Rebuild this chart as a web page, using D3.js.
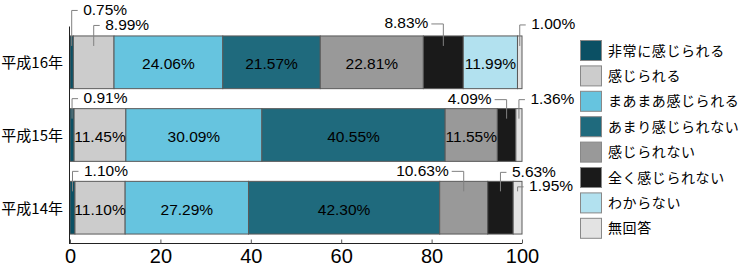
<!DOCTYPE html>
<html>
<head>
<meta charset="utf-8">
<script src="https://cdn.jsdelivr.net/npm/d3@7"></script>
<style>
  html, body { margin: 0; padding: 0; background: #fff; }
  svg { display: block; }
</style>
</head>
<body>
<svg id="chart" width="742" height="269"></svg>
<script>
// ---- data ----
const categories = ["平成16年", "平成15年", "平成14年"];
const seriesNames = ["非常に感じられる", "感じられる", "まあまあ感じられる", "あまり感じられない",
                     "感じられない", "全く感じられない", "わからない", "無回答"];
const valuesH16 = [0.75, 8.99, 24.06, 21.57, 22.81, 8.83, 11.99, 1.00];
const valuesH15 = [0.91, 11.45, 30.09, 40.55, 11.55, 4.09, 0, 1.36];
const valuesH14 = [1.10, 11.10, 27.29, 42.30, 10.63, 5.63, 0, 1.95];
const xTicks = [0, 20, 40, 60, 80, 100];

// ---- style / layout ----
const colors = ["#0b5064", "#cccccc", "#66c4df", "#1f6a7d", "#999999", "#1a1a1a", "#b2e1ef", "#e3e3e3"];
// labels drawn outside with leader lines: row, segment, direction, vertical offset from bar top
const callouts = [
  {row: 0, seg: 0, dir: 1, dy: -25.5},
  {row: 0, seg: 1, dir: 1, dy: -10.5},
  {row: 0, seg: 5, dir: -1, dy: -12},
  {row: 0, seg: 7, dir: 1, dy: -11},
  {row: 1, seg: 0, dir: 1, dy: -10},
  {row: 1, seg: 5, dir: -1, dy: -9},
  {row: 1, seg: 7, dir: 1, dy: -9},
  {row: 2, seg: 0, dir: 1, dy: -10},
  {row: 2, seg: 4, dir: -1, dy: -10},
  {row: 2, seg: 5, dir: 1, dy: -9},
  {row: 2, seg: 7, dir: 1, dy: 5.5}
];

const rows = [valuesH16, valuesH15, valuesH14];
const numFont = "'Liberation Sans', Arial, Helvetica, sans-serif";
const jpFont = "'Noto Sans CJK JP', 'Noto Sans', sans-serif";

const svg = d3.select("#chart");
const x = d3.scaleLinear().domain([0, 100]).range([70, 522]);
const y = d3.scaleBand().domain(categories).range([26.5, 243.5])
  .paddingInner(0.275).paddingOuter(0.13);

// build stacked segments
const segs = [];
rows.forEach((vals, r) => {
  let acc = 0;
  vals.forEach((v, s) => {
    segs.push({row: r, cat: categories[r], seg: s, v: v, x0: acc, x1: acc + v});
    acc += v;
  });
});

const outsideKey = new Set(callouts.map(c => c.row + "-" + c.seg));

// bars
svg.append("g").selectAll("rect").data(segs.filter(d => d.v > 0)).join("rect")
  .attr("x", d => x(d.x0))
  .attr("y", d => y(d.cat))
  .attr("width", d => x(d.x1) - x(d.x0))
  .attr("height", y.bandwidth())
  .attr("fill", d => colors[d.seg])
  .attr("stroke", "#5a5a5a")
  .attr("stroke-width", 1);

// inside labels
svg.append("g").selectAll("text")
  .data(segs.filter(d => d.v > 0 && !outsideKey.has(d.row + "-" + d.seg))).join("text")
  .attr("x", d => x((d.x0 + d.x1) / 2))
  .attr("y", d => y(d.cat) + y.bandwidth() / 2 + 7)
  .attr("text-anchor", "middle")
  .attr("font-family", numFont)
  .attr("font-size", 15.5)
  .attr("fill", "#000")
  .text(d => d.v.toFixed(2) + "%");

// outside labels with leader lines
const cg = svg.append("g");
callouts.forEach(c => {
  const d = segs.find(s => s.row === c.row && s.seg === c.seg);
  const cx = x((d.x0 + d.x1) / 2);
  const bt = y(d.cat);
  const ly = bt + c.dy;
  const stub = c.dir > 0 ? 6 : 12;
  cg.append("path")
    .attr("d", `M${cx},${bt + 10}V${ly}H${cx + c.dir * stub}`)
    .attr("fill", "none")
    .attr("stroke", "#808080")
    .attr("stroke-width", 1);
  cg.append("text")
    .attr("x", c.dir > 0 ? cx + 11.5 : cx - 15)
    .attr("y", ly + 4.5)
    .attr("text-anchor", c.dir > 0 ? "start" : "end")
    .attr("font-family", numFont)
    .attr("font-size", 15.5)
    .attr("fill", "#000")
    .text(d.v.toFixed(2) + "%");
});

// x axis
const xAxis = d3.axisBottom(x).tickValues(xTicks).tickSize(-4).tickPadding(8).tickFormat(d3.format("d"));
const gx = svg.append("g").attr("transform", "translate(0,243.5)").call(xAxis);
gx.select(".domain").attr("stroke", "#222").attr("d", "M70,0H522");
gx.selectAll(".tick line").attr("stroke", "#555");
gx.selectAll(".tick text").attr("font-family", numFont).attr("font-size", 20).attr("fill", "#000")
  .attr("dy", "0.71em").attr("y", 5);

// left axis line
svg.append("line").attr("x1", 69.5).attr("x2", 69.5).attr("y1", 26.5).attr("y2", 244)
  .attr("stroke", "#222").attr("stroke-width", 1);

// category labels
svg.append("g").selectAll("text").data(categories).join("text")
  .attr("x", 63)
  .attr("y", d => y(d) + y.bandwidth() / 2 + 6)
  .attr("text-anchor", "end")
  .attr("font-family", jpFont)
  .attr("font-size", 15)
  .attr("fill", "#000")
  .text(d => d);

// legend
const lg = svg.append("g");
const legItems = lg.selectAll("g").data(seriesNames).join("g")
  .attr("transform", (d, i) => `translate(580.5,${40.5 + i * 25.4})`);
legItems.append("rect").attr("width", 21).attr("height", 20)
  .attr("fill", (d, i) => colors[i]).attr("stroke", "#888").attr("stroke-width", 1);
legItems.append("text").attr("x", 27.5).attr("y", 15)
  .attr("font-family", jpFont).attr("font-size", 14).attr("letter-spacing", "0.6px")
  .attr("fill", "#000")
  .text(d => d);
</script>
</body>
</html>
